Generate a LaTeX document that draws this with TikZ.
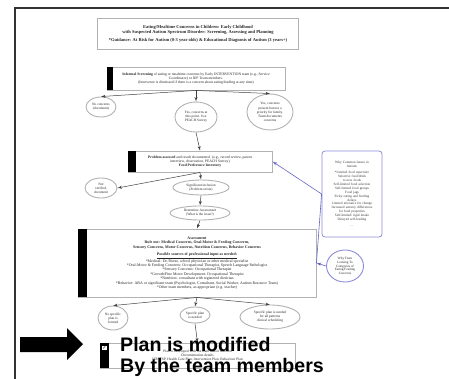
\documentclass[tikz,border=0pt]{standalone}
\usepackage{fontspec}
\setmainfont{Liberation Serif}
\newfontfamily\arialfont{Liberation Sans}
\newfontfamily\symfont{DejaVu Sans}
\usetikzlibrary{shapes, arrows, calc, positioning}
\definecolor{sidecol}{RGB}{140,140,215}
\definecolor{linkcol}{RGB}{100,100,195}
\tikzstyle{block} = [rectangle, draw=gray!60, line width=0.9pt, fill=white, text=black!85, align=center, inner sep=0pt, font=\fontsize{3.7}{4.3}\selectfont]
\tikzstyle{cloud} = [ellipse, draw=gray!60, line width=0.9pt, fill=white, text=black!85, align=center, inner sep=0pt, font=\fontsize{3.5}{4.1}\selectfont]
\tikzstyle{sidebox} = [rectangle, rounded corners=3pt, draw=sidecol, line width=0.8pt, fill=white, text=black!80, align=center, inner sep=0pt, font=\fontsize{3.4}{3.9}\selectfont]
\tikzstyle{line} = [draw=black!75, line width=0.5pt, -latex']
\tikzstyle{link} = [draw=linkcol, line width=0.6pt]
\tikzstyle{banner} = [anchor=base west, inner sep=0pt, font=\arialfont\bfseries\fontsize{19.6}{22}\selectfont]

\begin{document}
\begin{tikzpicture}[x=1pt, y=-1pt]
        \useasboundingbox (0,0) rectangle (449,379);
        \draw[black!80, line width=1.2pt] (15,379) -- (15,8) -- (449,8);

        \node[block, minimum width=201pt, minimum height=31pt, line width=1.2pt, font=\fontsize{4.5}{5.3}\selectfont\bfseries] (title) at (198,34) {Eating/Mealtime Concerns in Children: Early Childhood\\ with Suspected Autism Spectrum Disorder: Screening, Assessing and Planning\\[2.5pt] *Guidance: At Risk for Autism (0-3 year olds) \& Educational Diagnosis of Autism (3 years+)};

        \node[block, minimum width=178pt, minimum height=23pt] (screen) at (196,78.5) {\textbf{Informal Screening} of eating or mealtime concerns by Early INTERVENTION team (e.g., Service\\ Coordinator) or IEP Team members.\\ (Intervenor is dismissed if there is a concern about eating/feeding at any time)};
        \fill (screen.north west) rectangle ([xshift=6pt]screen.south west);

        \node[cloud, minimum width=30pt, minimum height=20pt] (none) at (101,107) {No concerns\\(document)};
        \node[cloud, minimum width=42pt, minimum height=30pt] (yes) at (196,117) {Yes, concerns at\\this point. Use\\PEACH Survey};
        \node[cloud, minimum width=46pt, minimum height=36pt] (lowpri) at (270,112) {Yes, concerns\\present but not a\\priority for family.\\Team documents\\concerns};
        \path[line] (screen.south) -- (none.north);
        \path[line] (screen.south) -- (yes.north);
        \path[line] (screen.south) -- (lowpri.north);

        \node[block, minimum width=144pt, minimum height=21pt] (problem) at (200,161.5) {\textbf{Problem assessed} and result documented. (e.g., record review, parent\\ interview, observation, PEACH Survey)\\ \textbf{Food Preference Inventory}};
        \fill (problem.north west) rectangle ([xshift=8pt]problem.south west);
        \path[line] (yes.south) -- (problem.north);

        \node[cloud, minimum width=32pt, minimum height=20pt] (notver) at (101,188) {Not\\verified,\\document};
        \path[line] (problem.south) -- (notver.east);

        \node[cloud, minimum width=56pt, minimum height=15pt] (signif) at (201,187.5) {Significant inclusion\\(Problem exists)};
        \path[line] (problem.south) -- (signif.north);

        \node[cloud, minimum width=60pt, minimum height=14pt] (determ) at (200,213) {Determine Assessment\\(What is the issue?)};
        \path[line] (signif.south) -- (determ.north);

        \node[block, minimum width=238pt, minimum height=68pt, font=\fontsize{3.9}{4.4}\selectfont] (assess) at (197,263) {\textbf{Assessment}\\ \textbf{Rule out: Medical Concerns, Oral-Motor \& Feeding Concerns,}\\ \textbf{Sensory Concerns, Motor Concerns, Nutrition Concerns, Behavior Concerns}\\[3pt] \textbf{\underline{Possible sources of professional input as needed:}}\\ *Medical: Dr./Nurse, school physician or other medical specialist\\ *Oral-Motor \& Feeding Concerns: Occupational Therapist, Speech Language Pathologist\\ *Sensory Concerns: Occupational Therapist\\ *Growth/Fine Motor Development: Occupational Therapist\\ *Nutrition: consultant with registered dietician\\ *Behavior: ABA or significant team (Psychologist, Consultant, Social Worker, Autism Resource Team)\\ *Other team members, as appropriate (e.g. teacher)};
        \fill (assess.north west) rectangle ([xshift=9pt]assess.south west);
        \path[line] (determ.south) -- (assess.north);

        \node[sidebox, minimum width=60pt, minimum height=86pt, text width=56pt] (issues) at (352,194) {Why Common Issues in\\Autism:\\[2pt] *Limited food repertoire\\ *Selective food/drink\\ to new foods\\ *Self-limited food selection\\ *Self-limited food groups\\ *Food jags\\ *Picky eating and feeding\\ delays\\ *Limited tolerance for change\\ *Increased sensory differences\\ for food properties\\ *Self-limited/ rigid intake\\ *Delayed self-feeding\\[2pt] ...};
        \coordinate (split) at (issues.west);
        \path[link, -latex'] (split) -- (problem.east);
        \path[link] (split) -- (assess.east);

        \node[cloud, draw=sidecol, minimum width=37pt, minimum height=32pt, font=\fontsize{3.3}{3.8}\selectfont] (team) at (345,266) {Why Team\\Looking To\\Categories of\\Eating/Feeding\\Concerns};
        \path[link, -latex'] (team.west) -- (assess.east);

        \node[cloud, minimum width=30pt, minimum height=24pt] (noplan) at (113,318) {No specific\\plan is\\formed};
        \node[cloud, minimum width=30pt, minimum height=16pt] (needed) at (195,315) {Specific plan\\is needed};
        \node[cloud, minimum width=60pt, minimum height=24pt] (allplan) at (270,317) {Specific plan is needed\\for all patterns\\clinical scheduling};
        \path[line] (assess.south) -- (noplan.north);
        \path[line] (assess.south) -- (needed.north);
        \path[line] (assess.south) -- (allplan.north);

        \node[block, minimum width=195pt, minimum height=25pt, font=\fontsize{3.6}{4.4}\selectfont] (plan) at (197.5,355.5) {Plan is developed with the team and/or referred\\ Documentation details\\ IEP/IFSP, Health Care Plan, Intervention Plan, Behaviour Plan};
        \fill (plan.north west) rectangle ([xshift=9pt]plan.south west);
        \node[fill=white, inner sep=0.4pt, font=\symfont\fontsize{5}{5}\selectfont] (check) at (104.5,348) {✓};
        \path[line] (needed.south) -- (plan.north);

        \fill (20,337) -- (67,337) -- (67,328) -- (83,344) -- (67,360) -- (67,352) -- (20,352) -- cycle;
        \node[banner] (modified) at (120,351) {Plan is modified};
        \node[banner] (members) at (120,372) {By the team members};
\end{tikzpicture}
\end{document}
